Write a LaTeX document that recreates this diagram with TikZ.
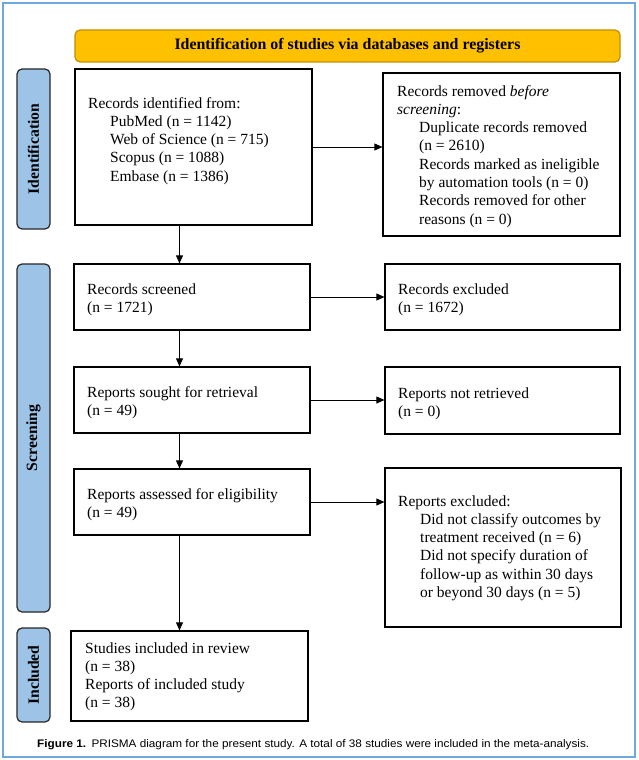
\documentclass[tikz,border=0pt]{standalone}
\usepackage{fontspec}
\setmainfont{Liberation Serif}
\newfontfamily\capfont{Liberation Sans}
\usetikzlibrary{arrows.meta}
\definecolor{frameblue}{HTML}{6FA8DC}
\definecolor{headfill}{HTML}{FFC000}
\definecolor{headdraw}{HTML}{BF9000}
\definecolor{sidefill}{HTML}{9DC3E6}
\newcommand{\ind}{\hspace*{22pt}}
\tikzset{
  box/.style={draw=black, line width=1.2pt, inner sep=0pt, fill=white},
  txt/.style={anchor=base west, inner sep=0pt, font=\fontsize{15.5}{18.3}\selectfont},
  side/.style={draw=black!85, line width=1.2pt, fill=sidefill, rounded corners=5pt, minimum width=33pt, inner sep=0pt},
  sidetxt/.style={rotate=90, font=\fontsize{15.7}{18}\selectfont\bfseries, inner sep=0pt},
  arr/.style={draw=black, line width=0.8pt, -{Triangle[length=8pt,width=7pt]}},
}
\begin{document}
\begin{tikzpicture}[x=1pt,y=-1pt]
\useasboundingbox (0,0) rectangle (638,760);
\node[draw=frameblue, line width=2pt, minimum width=632pt, minimum height=754pt, inner sep=0pt] (frame) at (319,380) {};
% header
\node[draw=headdraw, line width=1.2pt, fill=headfill, rounded corners=5pt, minimum width=545pt, minimum height=32pt, inner sep=0pt,
      font=\fontsize{15.9}{18}\selectfont\bfseries] (head) at (347.5,46) {Identification of studies via databases and registers};
% side labels
\node[side, minimum height=160pt] (idlab) at (33.5,149) {};
\node[sidetxt] (idtxt) at (idlab.center) {Identification};
\node[side, minimum height=348pt] (scrlab) at (33.5,438) {};
\node[sidetxt] (scrtxt) at (scrlab.center) {Screening};
\node[side, minimum height=94pt] (inclab) at (33.5,675) {};
\node[sidetxt] (inctxt) at (inclab.center) {Included};
% boxes
\node[box, minimum width=237pt, minimum height=156pt] (ident) at (193.5,147) {};
\node[box, minimum width=237pt, minimum height=163pt] (removed) at (501.5,154.5) {};
\node[box, minimum width=236pt, minimum height=66pt] (screened) at (192,297) {};
\node[box, minimum width=235pt, minimum height=66pt] (excl1) at (502.5,297) {};
\node[box, minimum width=236pt, minimum height=66pt] (sought) at (192,400) {};
\node[box, minimum width=235pt, minimum height=67pt] (notretr) at (502.5,400.5) {};
\node[box, minimum width=236pt, minimum height=66pt] (assessed) at (192,502) {};
\node[box, minimum width=236pt, minimum height=159pt] (excl2) at (503,547.5) {};
\node[box, minimum width=237pt, minimum height=90pt] (included) at (189.5,676) {};
% texts
\node[txt] (identt) at (88,108) {\begin{tabular}[t]{@{}l@{}}Records identified from:\\
\ind PubMed (n = 1142)\\ \ind Web of Science (n = 715)\\ \ind Scopus (n = 1088)\\ \ind Embase (n = 1386)\end{tabular}};
\node[txt] (removedt) at (397,96) {\begin{tabular}[t]{@{}l@{}}Records removed \textit{before}\\ \textit{screening}:\\
\ind Duplicate records removed\\ \ind (n = 2610)\\ \ind Records marked as ineligible\\ \ind by automation tools (n = 0)\\ \ind Records removed for other\\ \ind reasons (n = 0)\end{tabular}};
\node[txt] (screenedt) at (87,294) {\begin{tabular}[t]{@{}l@{}}Records screened\\ (n = 1721)\end{tabular}};
\node[txt] (excl1t) at (398,294) {\begin{tabular}[t]{@{}l@{}}Records excluded\\ (n = 1672)\end{tabular}};
\node[txt] (soughtt) at (87,397) {\begin{tabular}[t]{@{}l@{}}Reports sought for retrieval\\ (n = 49)\end{tabular}};
\node[txt] (notretrt) at (398,398) {\begin{tabular}[t]{@{}l@{}}Reports not retrieved\\ (n = 0)\end{tabular}};
\node[txt] (assessedt) at (87,499) {\begin{tabular}[t]{@{}l@{}}Reports assessed for eligibility\\ (n = 49)\end{tabular}};
\node[txt] (excl2t) at (398,506) {\begin{tabular}[t]{@{}l@{}}Reports excluded:\\
\ind Did not classify outcomes by\\ \ind treatment received (n = 6)\\ \ind Did not specify duration of\\ \ind follow-up as within 30 days\\ \ind or beyond 30 days (n = 5)\end{tabular}};
\node[txt] (includedt) at (85,653) {\begin{tabular}[t]{@{}l@{}}Studies included in review\\ (n = 38)\\ Reports of included study\\ (n = 38)\end{tabular}};
% spine
\coordinate (spine) at (179.5,0);
% arrows
\draw[arr] (ident.east) -- (ident.east -| removed.west);
\draw[arr] (ident.south -| spine) -- (screened.north -| spine);
\draw[arr] (screened.east) -- (screened.east -| excl1.west);
\draw[arr] (screened.south -| spine) -- (sought.north -| spine);
\draw[arr] (sought.east) -- (sought.east -| notretr.west);
\draw[arr] (sought.south -| spine) -- (assessed.north -| spine);
\draw[arr] (assessed.east) -- (assessed.east -| excl2.west);
\draw[arr] (assessed.south -| spine) -- (included.north -| spine);
% caption
\node[anchor=base west, inner sep=0pt, font=\capfont\fontsize{11}{12}\selectfont] (caption) at (37,747)
  {\scalebox{1.068}[1]{\textbf{Figure 1.}\hspace{5pt}PRISMA diagram for the present study. A total of 38 studies were included in the meta-analysis.}};
\end{tikzpicture}
\end{document}
